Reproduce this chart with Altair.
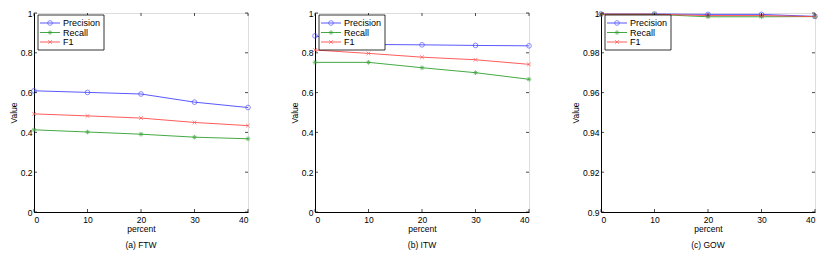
import altair as alt
import pandas as pd

percent = [0, 10, 20, 30, 40]
series_names = ["Precision", "Recall", "F1"]

ftw_precision = [0.609, 0.601, 0.593, 0.552, 0.525]
ftw_recall = [0.413, 0.402, 0.391, 0.376, 0.368]
ftw_f1 = [0.493, 0.483, 0.472, 0.450, 0.434]

itw_precision = [0.885, 0.842, 0.840, 0.837, 0.835]
itw_recall = [0.752, 0.752, 0.725, 0.700, 0.667]
itw_f1 = [0.814, 0.797, 0.778, 0.765, 0.742]

gow_precision = [0.9995, 0.9995, 0.9993, 0.9993, 0.9983]
gow_recall = [0.9993, 0.9993, 0.9981, 0.9981, 0.9982]
gow_f1 = [0.9994, 0.9994, 0.9987, 0.9987, 0.9982]

x_ticks = [0, 10, 20, 30, 40]
y_ticks_ab = [0, 0.2, 0.4, 0.6, 0.8, 1.0]
y_ticks_c = [0.9, 0.92, 0.94, 0.96, 0.98, 1.0]

captions = ["(a) FTW", "(b) ITW", "(c) GOW"]

COLORS = ["#4646ff", "#2f9f2f", "#ff4a4a"]
SHAPES = [
    "circle",
    "M-1,0L1,0M0,-1L0,1M-0.7,-0.7L0.7,0.7M-0.7,0.7L0.7,-0.7",
    "M-0.8,-0.8L0.8,0.8M-0.8,0.8L0.8,-0.8",
]
FONT = "Liberation Sans"
FS = 8.5
W, H = 214, 199
LEGEND_ROWS = [10, 19.5, 29]


def long_df(p, r, f):
    rows = []
    for name, vals in zip(series_names, [p, r, f]):
        for x, v in zip(percent, vals):
            rows.append({"percent": x, "value": v, "series": name})
    return pd.DataFrame(rows)


def panel(df, ydomain, yticks, caption):
    xs = alt.Scale(domain=[0, 40], nice=False, zero=False)
    ys = alt.Scale(domain=ydomain, nice=False, zero=False)
    common = dict(titleFontWeight="normal", titleFontSize=FS, labelFontSize=FS,
                  titleFont=FONT, labelFont=FONT, ticks=False, grid=False,
                  domainColor="black", labelColor="black", titleColor="black")
    xaxis = alt.Axis(values=x_ticks, title="percent", format="d",
                     labelPadding=3, titlePadding=1, **common)
    yaxis = alt.Axis(values=yticks, title="Value", format="~r",
                     labelPadding=2, titlePadding=2, **common)
    color = alt.Color("series:N", scale=alt.Scale(domain=series_names, range=COLORS), legend=None)
    shape = alt.Shape("series:N", scale=alt.Scale(domain=series_names, range=SHAPES), legend=None)

    base = alt.Chart(df)
    lines = base.mark_line(strokeWidth=0.9).encode(
        x=alt.X("percent:Q", scale=xs, axis=xaxis),
        y=alt.Y("value:Q", scale=ys, axis=yaxis),
        color=color,
    )
    points = base.mark_point(filled=False, size=22, strokeWidth=0.9).encode(
        x=alt.X("percent:Q", scale=xs, axis=xaxis),
        y=alt.Y("value:Q", scale=ys, axis=yaxis),
        color=color,
        shape=shape,
    )

    xt = alt.Chart(pd.DataFrame({"t": x_ticks}))
    yt = alt.Chart(pd.DataFrame({"t": yticks}))
    tick_x_bottom = xt.mark_rule(color="black", strokeWidth=0.7).encode(
        x=alt.X("t:Q", scale=xs, axis=xaxis), y=alt.value(H), y2=alt.value(H - 3))
    tick_x_top = xt.mark_rule(color="black", strokeWidth=0.7).encode(
        x=alt.X("t:Q", scale=xs, axis=xaxis), y=alt.value(0), y2=alt.value(3))
    tick_y_left = yt.mark_rule(color="black", strokeWidth=0.7).encode(
        y=alt.Y("t:Q", scale=ys, axis=yaxis), x=alt.value(0), x2=alt.value(3))
    tick_y_right = yt.mark_rule(color="black", strokeWidth=0.7).encode(
        y=alt.Y("t:Q", scale=ys, axis=yaxis), x=alt.value(W), x2=alt.value(W - 3))

    box = alt.Chart(pd.DataFrame({"k": [0]})).mark_rect(
        fill="white", stroke="black", strokeWidth=0.8).encode(
        x=alt.value(4), x2=alt.value(70), y=alt.value(2), y2=alt.value(37))
    legend_layers = []
    for name, ry in zip(series_names, LEGEND_ROWS):
        leg = alt.Chart(pd.DataFrame({"series": [name]}))
        legend_layers.append(leg.mark_rule(strokeWidth=0.9).encode(
            x=alt.value(6), x2=alt.value(26), y=alt.value(ry), color=color))
        legend_layers.append(leg.mark_point(filled=False, size=22, strokeWidth=0.9).encode(
            x=alt.value(16), y=alt.value(ry), color=color, shape=shape))
        legend_layers.append(leg.mark_text(align="left", baseline="middle", fontSize=9,
                                           font=FONT, color="black").encode(
            x=alt.value(29), y=alt.value(ry), text="series:N"))

    return alt.layer(
        lines, points, tick_x_bottom, tick_x_top, tick_y_left, tick_y_right,
        box, *legend_layers,
    ).properties(
        width=W, height=H,
        title=alt.TitleParams(caption, orient="bottom", fontSize=FS, font=FONT,
                              fontWeight="normal", offset=8, color="black"),
    )


pa = panel(long_df(ftw_precision, ftw_recall, ftw_f1), [0, 1], y_ticks_ab, captions[0])
pb = panel(long_df(itw_precision, itw_recall, itw_f1), [0, 1], y_ticks_ab, captions[1])
pc = panel(long_df(gow_precision, gow_recall, gow_f1), [0.9, 1], y_ticks_c, captions[2])

chart = alt.hconcat(pa, pb, pc, spacing=36).properties(
    padding={"left": 0, "top": 0, "right": 0, "bottom": 0}
).configure_view(stroke="black", strokeWidth=0.8).configure_axis(
    labelFont=FONT, titleFont=FONT, labelFontSize=FS, titleFontSize=FS,
    titleFontWeight="normal", labelColor="black", titleColor="black",
    domainColor="black", domainWidth=0.8, ticks=False, grid=False,
).configure(background="white")

chart.save("out.html", embed_options={"renderer": "svg", "actions": False})
